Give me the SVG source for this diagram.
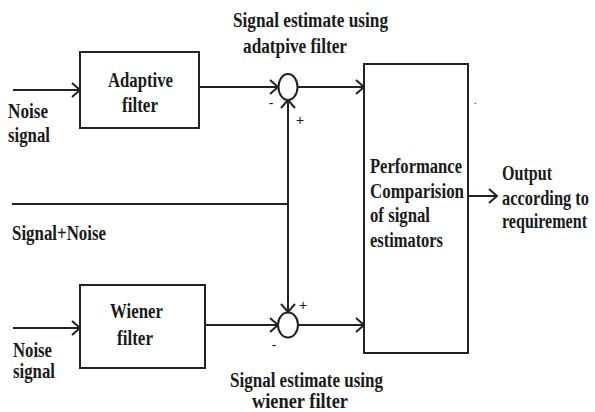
<svg xmlns="http://www.w3.org/2000/svg" width="595" height="412" viewBox="0 0 595 412">
  <style>
    .box { fill: #fff; stroke: #222; stroke-width: 2; }
    .wire { fill: none; stroke: #222; stroke-width: 2; }
    .sum { fill: #fff; stroke: #222; stroke-width: 2; }
    .lbl { font-family: 'Liberation Serif', 'DejaVu Serif', serif; font-weight: 700; font-size: 20px; fill: #1a1a1a; }
    .sign { font-family: 'Liberation Sans', 'DejaVu Sans', sans-serif; font-weight: normal; font-size: 14px; text-anchor: middle; fill: #1a1a1a; }
  </style>
  <defs>
    <marker id="arrow" markerUnits="userSpaceOnUse" markerWidth="12" markerHeight="18" viewBox="-10 -9 12 18" refX="0" refY="0" orient="auto">
      <path d="M-8,-7 L0,0 L-8,7" fill="none" stroke="#222" stroke-width="2"/>
    </marker>
  </defs>

  <!-- connectors -->
  <g id="connectors">
    <path class="wire" d="M13,90 H80" marker-end="url(#arrow)"/>
    <path class="wire" d="M199,87 H278" marker-end="url(#arrow)"/>
    <path class="wire" d="M297,87 H364" marker-end="url(#arrow)"/>
    <path class="wire" d="M13,328 H80" marker-end="url(#arrow)"/>
    <path class="wire" d="M205,325 H278" marker-end="url(#arrow)"/>
    <path class="wire" d="M298,325 H364" marker-end="url(#arrow)"/>
    <path class="wire" d="M12,204 H288"/>
    <path class="wire" d="M288,204 V100" marker-end="url(#arrow)"/>
    <path class="wire" d="M288,204 V312" marker-end="url(#arrow)"/>
    <path class="wire" d="M468,196 H497" marker-end="url(#arrow)"/>
  </g>

  <!-- adaptive filter -->
  <g id="adaptive-filter" class="lbl">
    <rect class="box" x="80" y="52" width="119" height="76"/>
    <text x="108" y="87" textLength="65" lengthAdjust="spacingAndGlyphs">Adaptive</text>
    <text x="122" y="112" textLength="36" lengthAdjust="spacingAndGlyphs">filter</text>
  </g>

  <!-- wiener filter -->
  <g id="wiener-filter" class="lbl">
    <rect class="box" x="80" y="285" width="125" height="83"/>
    <text x="110" y="318" textLength="53" lengthAdjust="spacingAndGlyphs">Wiener</text>
    <text x="117" y="345" textLength="36" lengthAdjust="spacingAndGlyphs">filter</text>
  </g>

  <!-- summing junctions -->
  <g id="sum-adaptive">
    <ellipse class="sum" cx="288" cy="87" rx="9.5" ry="13"/>
    <text class="sign" x="271" y="108">-</text>
    <text class="sign" x="300" y="125">+</text>
  </g>
  <g id="sum-wiener">
    <ellipse class="sum" cx="288" cy="325" rx="10" ry="12.5"/>
    <text class="sign" x="303" y="310">+</text>
    <text class="sign" x="274" y="350">-</text>
  </g>

  <!-- comparison block -->
  <g id="comparison" class="lbl">
    <rect class="box" x="364" y="64" width="104" height="289"/>
    <text x="370" y="173" textLength="92" lengthAdjust="spacingAndGlyphs">Performance</text>
    <text x="370" y="198" textLength="94" lengthAdjust="spacingAndGlyphs">Comparision</text>
    <text x="370" y="222" textLength="60" lengthAdjust="spacingAndGlyphs">of signal</text>
    <text x="370" y="247" textLength="73" lengthAdjust="spacingAndGlyphs">estimators</text>
  </g>
  <text x="474" y="104" style="font-family:'Liberation Serif',serif;font-size:10px">.</text>

  <!-- input / output labels -->
  <g id="labels" class="lbl">
    <text x="8" y="118" textLength="40" lengthAdjust="spacingAndGlyphs">Noise</text>
    <text x="8" y="142" textLength="42" lengthAdjust="spacingAndGlyphs">signal</text>
    <text x="12" y="240" textLength="94" lengthAdjust="spacingAndGlyphs">Signal+Noise</text>
    <text x="13" y="357" textLength="39" lengthAdjust="spacingAndGlyphs">Noise</text>
    <text x="13" y="378" textLength="42" lengthAdjust="spacingAndGlyphs">signal</text>
    <text x="233" y="27" textLength="155" lengthAdjust="spacingAndGlyphs">Signal estimate using</text>
    <text x="243" y="53" textLength="104" lengthAdjust="spacingAndGlyphs">adatpive filter</text>
    <text x="230" y="387" textLength="153" lengthAdjust="spacingAndGlyphs">Signal estimate using</text>
    <text x="252" y="408" textLength="96" lengthAdjust="spacingAndGlyphs">wiener filter</text>
    <text x="502" y="180" textLength="50" lengthAdjust="spacingAndGlyphs">Output</text>
    <text x="502" y="205" textLength="87" lengthAdjust="spacingAndGlyphs">according to</text>
    <text x="502" y="228" textLength="85" lengthAdjust="spacingAndGlyphs">requirement</text>
  </g>
</svg>
